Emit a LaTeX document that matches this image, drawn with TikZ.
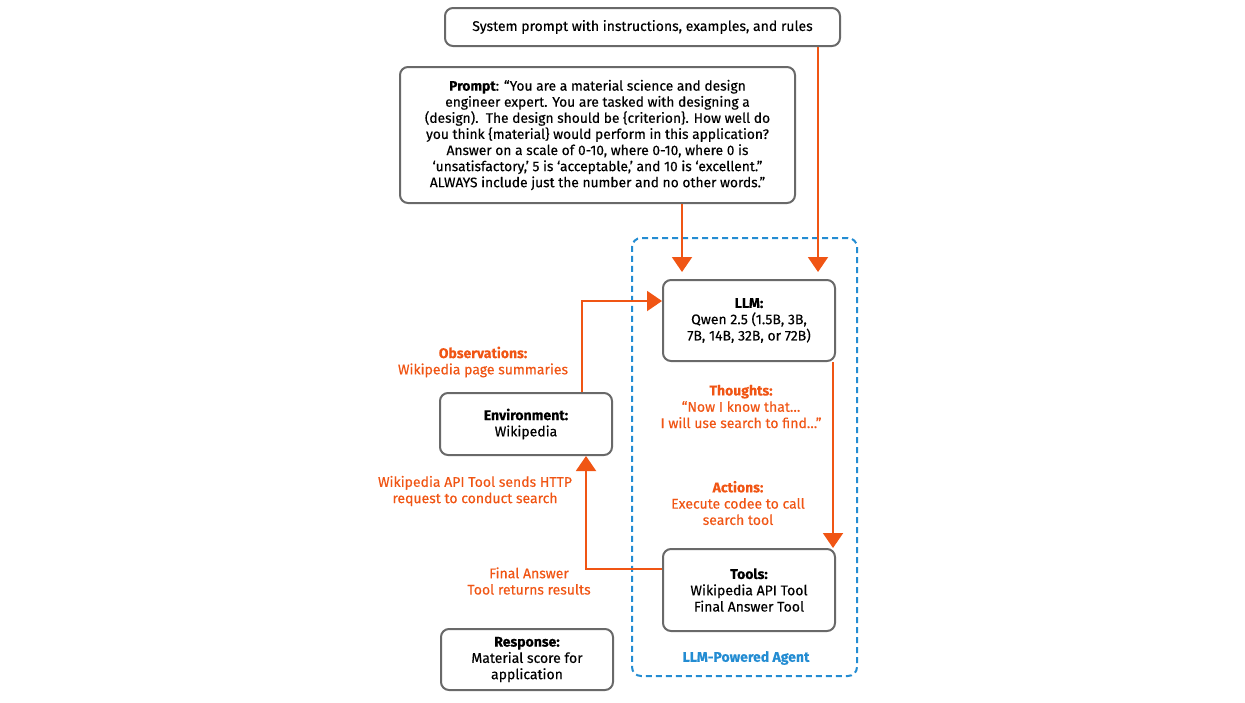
\documentclass[tikz,border=0pt]{standalone}
\usepackage{fontspec}
\setmainfont{Fira Sans}
\usetikzlibrary{arrows.meta}
\definecolor{org}{RGB}{240,85,20}
\definecolor{agentblue}{RGB}{35,140,210}
\definecolor{boxgray}{RGB}{105,105,105}
\newcommand\fsz{\fontsize{14pt}{16.3pt}\selectfont\addfontfeatures{FakeBold=0.3}}
\newcommand\fsp{\fontsize{13.8pt}{16.1pt}\selectfont\addfontfeatures{FakeBold=0.3}}
\begin{document}
\begin{tikzpicture}[x=1pt,y=-1pt,
  box/.style={draw=boxgray, line width=2pt, rounded corners=8pt, fill=white, align=center, inner sep=0pt, font=\fsz},
  lbl/.style={text=org, align=center, inner sep=0pt, font=\fsz},
  arr/.style={draw=org, line width=2pt, -{Triangle[length=15pt,width=20pt]}},
  agentbox/.style={draw=agentblue, line width=2pt, dash pattern=on 6pt off 4pt, rounded corners=9pt, inner sep=0pt}]
\useasboundingbox (0,0) rectangle (1245,702);
\node[agentbox, minimum width=225pt, minimum height=438pt] (agent) at (744.5,457) {};
\node[text=agentblue, font=\fsz\bfseries, inner sep=0pt] (agentlbl) at (746,658) {LLM-Powered Agent};

\node[box, minimum width=395pt, minimum height=38pt] (sys) at (642.5,27) {System prompt with instructions, examples, and rules};
\node[box, font=\fsp, minimum width=395pt, minimum height=136pt] (prompt) at (597.5,135) {\textbf{Prompt}: “You are a material science and design\\engineer expert. You are tasked with designing a\\(design).\ \ The design should be \{criterion\}. How well do\\you think \{material\} would perform in this application?\\Answer on a scale of 0-10, where 0-10, where 0 is\\‘unsatisfactory,’ 5 is ‘acceptable,’ and 10 is ‘excellent.”\\ALWAYS include just the number and no other words.”};
\node[box, minimum width=172pt, minimum height=81pt] (llm) at (749,320.5) {\textbf{LLM:}\\Qwen 2.5 (1.5B, 3B,\\7B, 14B, 32B, or 72B)};
\node[box, minimum width=172pt, minimum height=62pt] (env) at (526,424) {\textbf{Environment:}\\Wikipedia};
\node[box, minimum width=172pt, minimum height=82pt] (tools) at (749,590) {\textbf{Tools:}\\Wikipedia API Tool\\Final Answer Tool};
\node[box, minimum width=172pt, minimum height=61pt] (resp) at (527,659.5) {\textbf{Response:}\\Material score for\\application};

\node[lbl] (obs) at (483,362) {\textbf{Observations:}\\Wikipedia page summaries};
\node[lbl] (thoughts) at (741,406.5) {\textbf{Thoughts:}\\“Now I know that…\\I will use search to find…”};
\node[lbl] (actions) at (738,503) {\textbf{Actions:}\\Execute codee to call\\search tool};
\node[lbl] (req) at (475,491) {Wikipedia API Tool sends HTTP\\request to conduct search};
\node[lbl] (fin) at (529,581) {Final Answer\\Tool returns results};

\draw[arr, shorten >=7pt] ([xshift=20pt]llm.north west |- prompt.south) -- ([xshift=20pt]llm.north west);
\draw[arr, shorten >=7pt] ([xshift=-18pt]llm.north east |- sys.south) -- ([xshift=-18pt]llm.north east);
\draw[arr] ([xshift=143pt]env.north west) |- ([yshift=-22pt]llm.north west);
\draw[arr] ([xshift=-3pt]llm.south east) -- ([xshift=-3pt]tools.north east);
\draw[arr] ([yshift=-21pt]tools.north west) -| ([xshift=-27pt]env.south east);
\end{tikzpicture}
\end{document}
